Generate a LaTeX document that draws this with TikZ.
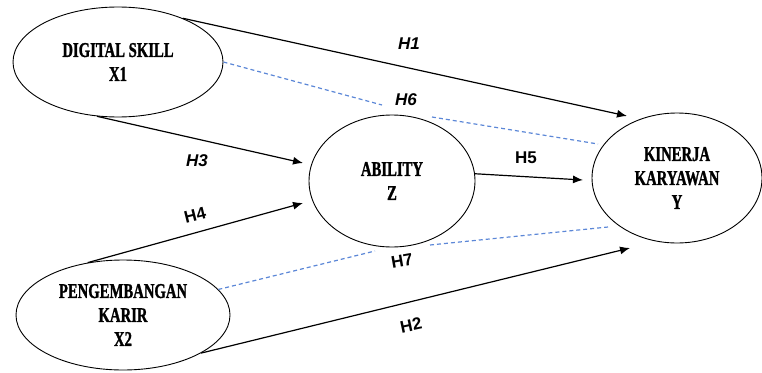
\documentclass[tikz,border=0pt]{standalone}
\usepackage{fontspec}
\usetikzlibrary{shapes.geometric,arrows.meta}
\newfontfamily\ellfont[FakeStretch=0.70,FakeBold=1.2]{Liberation Serif Bold}
\newfontfamily\labfont{Liberation Sans Bold}
\newfontfamily\labitfont{Liberation Sans Bold Italic}
\definecolor{dashblue}{RGB}{92,135,215}
\begin{document}
\begin{tikzpicture}[x=1pt,y=-1pt,
  latent/.style={ellipse,draw=black,line width=0.9pt,fill=white,inner sep=0pt,align=center,
    font=\ellfont\fontsize{21}{24}\selectfont},
  arrowline/.style={line width=1.2pt,-{Latex[length=10pt,width=8pt]}},
  dashline/.style={draw=dashblue,line width=1.2pt,dash pattern=on 4pt off 3pt},
  hlab/.style={font=\labfont\fontsize{17}{20}\selectfont,inner sep=1pt},
  hlabit/.style={font=\labitfont\fontsize{17}{20}\selectfont,inner sep=1pt}
]
\useasboundingbox (0,0) rectangle (762,372);

% latent variables
\node[latent,minimum width=210pt,minimum height=110pt] (X1) at (118,62) {DIGITAL SKILL\\X1};
\node[latent,minimum width=214pt,minimum height=110pt] (X2) at (123,315) {PENGEMBANGAN\\KARIR\\X2};
\node[latent,minimum width=166pt,minimum height=132pt] (Z) at (392,181) {ABILITY\\Z};
\node[latent,minimum width=170pt,minimum height=130pt] (Y) at (677,178) {KINERJA\\KARYAWAN\\Y};

% free ends of arrows and dashed breaks
\coordinate (e1) at (627,116);
\coordinate (e2) at (630,248);
\coordinate (e3) at (303,163);
\coordinate (e4) at (303,203);
\coordinate (e5) at (583,180);
\coordinate (d6a) at (382,105);
\coordinate (d6b) at (432,117);
\coordinate (d6c) at (598,144);
\coordinate (d7a) at (375,251);
\coordinate (d7b) at (430,245);
\coordinate (d7c) at (608,227);

% direct paths
\draw[arrowline] (X1.34) -- (e1);
\draw[arrowline] (X2.-26) -- (e2);
\draw[arrowline] (X1.-111) -- (e3);
\draw[arrowline] (X2.124) -- (e4);
\draw[arrowline] (Z.5) -- (e5);

% indirect (dashed)
\draw[dashline] (X1.east) -- (d6a);
\draw[dashline] (d6b) -- (d6c);
\draw[dashline] (X2.15) -- (d7a);
\draw[dashline] (d7b) -- (d7c);

% labels
\node[hlabit] (h1) at (409,44) {H1};
\node[hlabit] (h6) at (406,100) {H6};
\node[hlabit] (h3) at (197,161) {H3};
\node[hlab] (h5) at (526,158) {H5};
\node[hlab,rotate=14] (h4) at (195,215) {H4};
\node[hlab,rotate=10] (h7) at (402,261) {H7};
\node[hlab,rotate=12] (h2) at (411,325) {H2};
\end{tikzpicture}
\end{document}
